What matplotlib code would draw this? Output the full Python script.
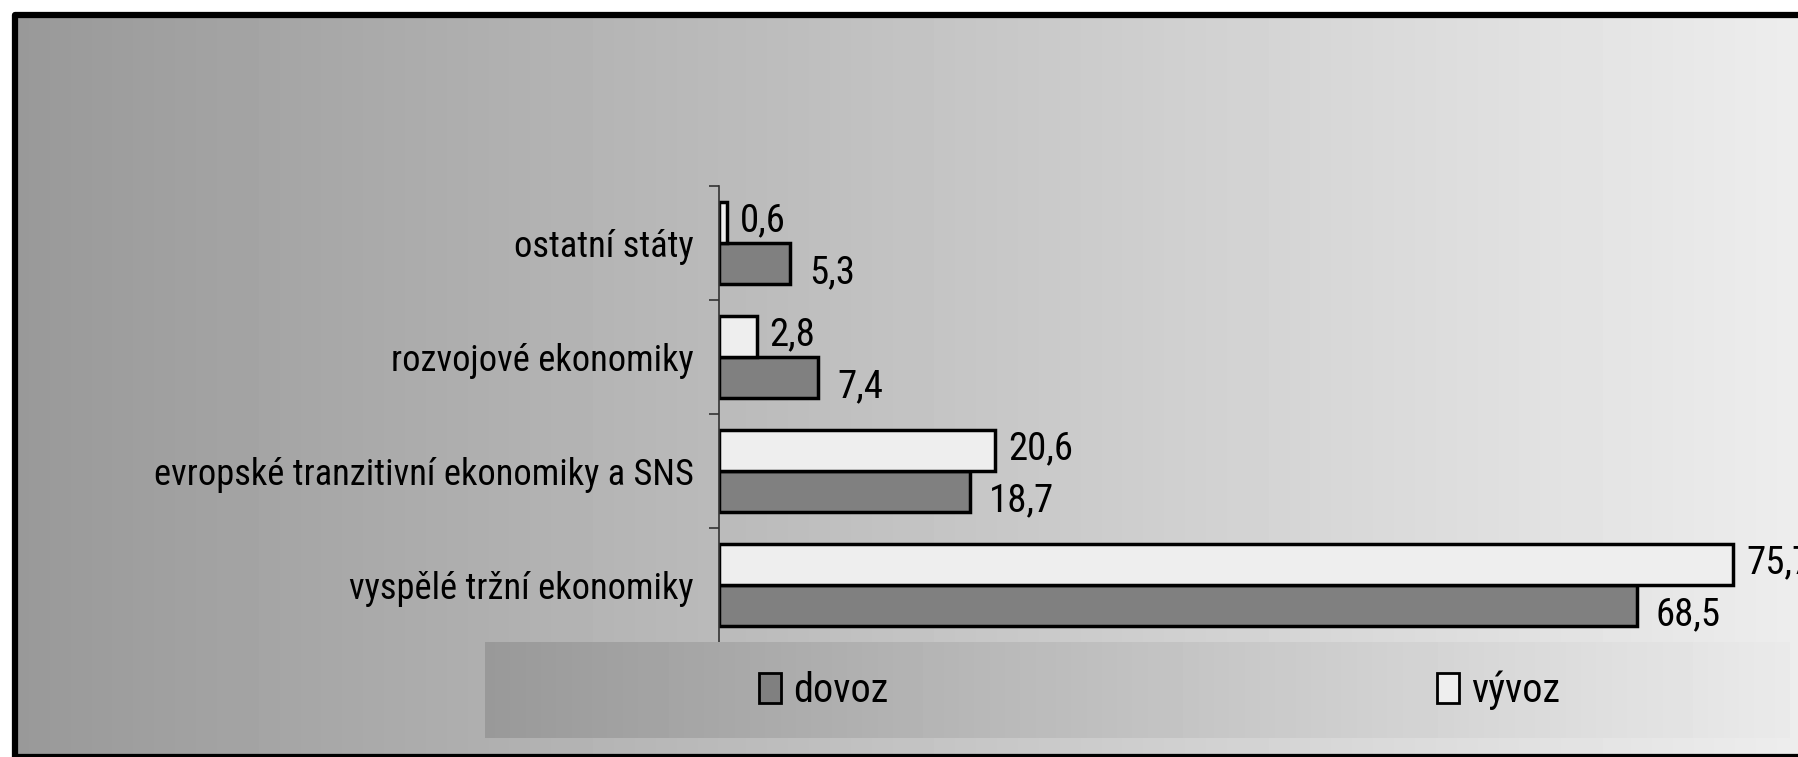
import numpy as np
import matplotlib
matplotlib.use('Agg')
import matplotlib.pyplot as plt
from matplotlib.patches import Rectangle, Patch
from matplotlib import font_manager

# data (podíly v %)
categories = ['vyspělé tržní ekonomiky', 'evropské tranzitivní ekonomiky a SNS',
              'rozvojové ekonomiky', 'ostatní státy']
dovoz = [68.5, 18.7, 7.4, 5.3]
vyvoz = [75.7, 20.6, 2.8, 0.6]
series_names = ['dovoz', 'vývoz']

# úzké písmo jako Arial Narrow, pokud je k dispozici
names = {f.name for f in font_manager.fontManager.ttflist}
narrow = [f for f in ['Liberation Sans Narrow', 'Arial Narrow', 'Roboto Condensed',
                      'Archivo Narrow', 'PT Sans Narrow'] if f in names]
plt.rcParams['font.family'] = narrow[:1] + ['Liberation Sans', 'DejaVu Sans']

W, H = 1798, 757
fig = plt.figure(figsize=(W / 100, H / 100), dpi=100, facecolor='white')

# pozadí s gradientem
bg = fig.add_axes([15 / W, 0, 1 - 15 / W, 1 - 15 / H])
grad = np.linspace(153, 237, 256)[None, :] / 255.0
bg.imshow(grad, cmap='gray', vmin=0, vmax=1, aspect='auto', extent=(0, 1, 0, 1))
bg.set_axis_off()

# rámeček
fig.patches.append(Rectangle((15 / W, 0), 1.2, 1 - 15 / H, transform=fig.transFigure,
                             facecolor='none', edgecolor='black', linewidth=4.5,
                             joinstyle='round', zorder=5))

# graf
ax = fig.add_axes([719 / W, 115 / H, 1 - 719 / W, (642 - 186) / H])
ax.set_facecolor('none')
y = np.arange(len(categories))
h = 0.36
b_dov = ax.barh(y - h / 2, dovoz, height=h, color='#808080', edgecolor='black', linewidth=2.5)
b_vyv = ax.barh(y + h / 2, vyvoz, height=h, color='#eeeeee', edgecolor='black', linewidth=2.5)

for rect, v in zip(b_vyv, vyvoz):
    ax.annotate(f'{v:.1f}'.replace('.', ','), (rect.get_width(), rect.get_y() + rect.get_height() / 2),
                xytext=(13, 2), textcoords='offset pixels', va='center', ha='left', fontsize=28)
for rect, v in zip(b_dov, dovoz):
    ax.annotate(f'{v:.1f}'.replace('.', ','), (rect.get_width(), rect.get_y() + rect.get_height() / 2),
                xytext=(19, -9), textcoords='offset pixels', va='center', ha='left', fontsize=28)

ax.set_xlim(0, (W - 719) / 13.4)
ax.set_ylim(-0.5, len(categories) - 0.5)
ax.set_yticks(y)
ax.set_yticklabels(categories, fontsize=26.3)
ax.tick_params(axis='y', length=0, pad=18)
ax.set_yticks(np.arange(len(categories)) + 0.5, minor=True)
ax.tick_params(axis='y', which='minor', length=7, width=1.2, color='#333333', direction='out')
ax.set_xticks([])
for s in ['top', 'right', 'bottom']:
    ax.spines[s].set_visible(False)
ax.spines['left'].set_linewidth(1.2)
ax.spines['left'].set_color('#333333')

# legenda s gradientem
lx0, lx1 = 485, 1790
lax = fig.add_axes([lx0 / W, (H - 738) / H, (lx1 - lx0) / W, (738 - 642) / H])
lax.imshow(np.linspace(153, 234, 256)[None, :] / 255.0, cmap='gray', vmin=0, vmax=1,
           aspect='auto', extent=(0, 1, 0, 1))
lax.set_axis_off()
handles = [Patch(facecolor='#808080', edgecolor='black', linewidth=2),
           Patch(facecolor='#eeeeee', edgecolor='black', linewidth=2)]
lax.legend(handles, series_names, ncol=2, loc='center', bbox_to_anchor=(0.517, 0.5),
           frameon=False, fontsize=29, handlelength=0.55, handleheight=0.78,
           handletextpad=0.3, columnspacing=13.6)

fig.savefig('out.png', dpi=100, facecolor='white')
